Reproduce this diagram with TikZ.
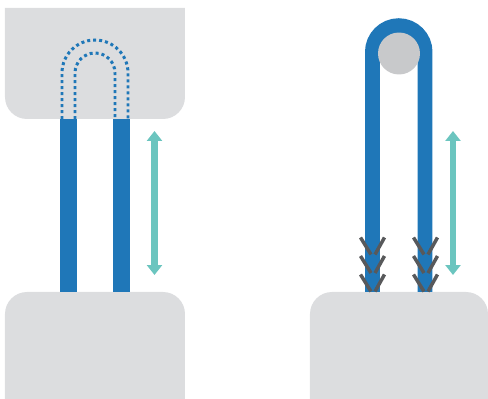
\documentclass[tikz,border=0pt]{standalone}
\usetikzlibrary{arrows.meta}

\definecolor{blockgray}{HTML}{DCDDDF}
\definecolor{pulleygray}{HTML}{C8C9CB}
\definecolor{strapblue}{HTML}{1F77B8}
\definecolor{traveltal}{HTML}{6BC5BF}
\definecolor{barbgray}{HTML}{58595B}

\begin{document}
\begin{tikzpicture}[
  x=0.02cm, y=-0.02cm,
  block/.style  = {fill=blockgray},
  strap/.style  = {draw=strapblue, line width=0.34cm},
  loopstrap/.style = {draw=strapblue, line width=0.3cm},
  hidden/.style = {draw=strapblue, line width=0.06cm, dash pattern=on 0.06cm off 0.06cm},
  travel/.style = {draw=traveltal, line width=0.14cm,
                   {Triangle[length=0.2cm,width=0.3cm]}-{Triangle[length=0.2cm,width=0.3cm]}},
  barb/.style   = {draw=barbgray, line width=0.07cm},
]
  \useasboundingbox (0,0) rectangle (488,399);

  % left: straps end inside the upper block
  \fill[block] (5,8) [rounded corners=0.44cm] -- (5,119) -- (185,119) [sharp corners] -- (185,8) -- cycle;
  \fill[block] (5,399) [rounded corners=0.44cm] -- (5,292) -- (185,292) [sharp corners] -- (185,399) -- cycle;
  \draw[strap] (68.5,119) -- (68.5,292);
  \draw[strap] (121.5,119) -- (121.5,292);
  \draw[hidden] (62,119) -- (62,73) arc[start angle=180, end angle=360, radius=33] -- (128,119);
  \draw[hidden] (75,119) -- (75,73) arc[start angle=180, end angle=360, radius=20] -- (115,119);

  \coordinate (left top) at (154.5,131);
  \coordinate (left bottom) at (154.5,275);
  \draw[travel] (left top) -- (left bottom);

  % right: strap runs over a pulley, barbs into the lower block
  \fill[block] (310,399) [rounded corners=0.44cm] -- (310,292) -- (488,292) [sharp corners] -- (488,399) -- cycle;
  \draw[loopstrap] (372.5,292) -- (372.5,52) arc[start angle=180, end angle=360, radius=26.25] -- (425,292);
  \node[circle, fill=pulleygray, minimum size=0.84cm, inner sep=0pt] (pulley) at (399,53.5) {};

  \draw[barb] (360.5,237.5) -- (371,254.5) (384.5,237.5) -- (375,254.5);
  \draw[barb] (360.5,256) -- (371,273) (384.5,256) -- (375,273);
  \draw[barb] (360.5,274.5) -- (371,291.5) (384.5,274.5) -- (375,291.5);
  \draw[barb] (413.5,237.5) -- (424,254.5) (437.5,237.5) -- (428,254.5);
  \draw[barb] (413.5,256) -- (424,273) (437.5,256) -- (428,273);
  \draw[barb] (413.5,274.5) -- (424,291.5) (437.5,274.5) -- (428,291.5);

  \coordinate (right top) at (453,131);
  \coordinate (right bottom) at (453,275);
  \draw[travel] (right top) -- (right bottom);
\end{tikzpicture}
\end{document}
